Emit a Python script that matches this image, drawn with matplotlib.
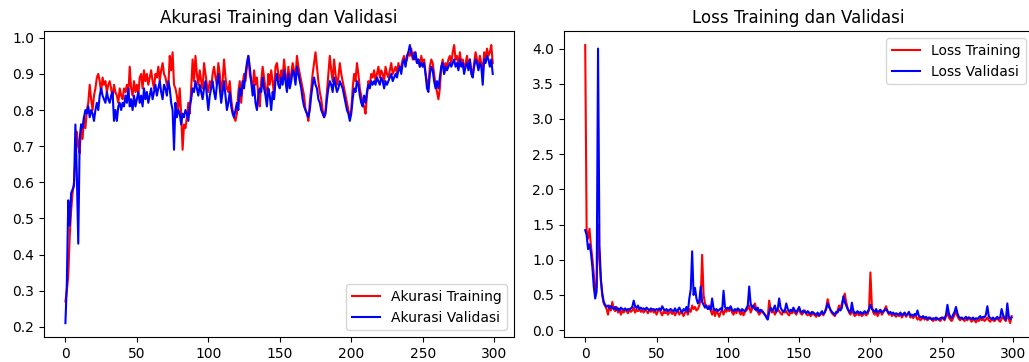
"""
Akurasi dan loss training/validasi per epoch (dua panel).
"""
import numpy as np
import matplotlib
matplotlib.use('Agg')
import matplotlib.pyplot as plt

# akurasi training (merah)
acc_tr = [
    0.27, 0.30, 0.34, 0.45, 0.52, 0.57, 0.60, 0.66, 0.74, 0.70,
    0.68, 0.76, 0.72, 0.78, 0.75, 0.80, 0.82, 0.87, 0.83, 0.80,
    0.84, 0.86, 0.89, 0.90, 0.88, 0.85, 0.89, 0.87, 0.88, 0.85,
    0.87, 0.88, 0.86, 0.83, 0.87, 0.85, 0.84, 0.82, 0.86, 0.84,
    0.83, 0.86, 0.85, 0.87, 0.84, 0.92, 0.86, 0.84, 0.88, 0.85,
    0.87, 0.84, 0.89, 0.90, 0.86, 0.91, 0.88, 0.90, 0.87, 0.89,
    0.91, 0.88, 0.86, 0.90, 0.89, 0.92, 0.88, 0.91, 0.93, 0.90,
    0.89, 0.87, 0.86, 0.95, 0.91, 0.96, 0.87, 0.86, 0.84, 0.80,
    0.86, 0.79, 0.69, 0.76, 0.75, 0.78, 0.82, 0.79, 0.86, 0.94,
    0.88, 0.95, 0.90, 0.87, 0.91, 0.88, 0.86, 0.93, 0.90, 0.87,
    0.85, 0.88, 0.86, 0.90, 0.92, 0.89, 0.87, 0.93, 0.90, 0.85,
    0.88, 0.94, 0.89, 0.86, 0.85, 0.88, 0.83, 0.80, 0.78, 0.77,
    0.79, 0.85, 0.88, 0.82, 0.87, 0.90, 0.88, 0.92, 0.95, 0.90,
    0.88, 0.86, 0.91, 0.87, 0.89, 0.84, 0.81, 0.88, 0.92, 0.89,
    0.86, 0.83, 0.90, 0.87, 0.91, 0.88, 0.84, 0.92, 0.93, 0.90,
    0.88, 0.91, 0.89, 0.94, 0.90, 0.86, 0.92, 0.88, 0.90, 0.93,
    0.91, 0.89, 0.95, 0.92, 0.90, 0.88, 0.86, 0.84, 0.80, 0.79,
    0.77, 0.82, 0.86, 0.90, 0.93, 0.96, 0.92, 0.88, 0.85, 0.83,
    0.80, 0.78, 0.80, 0.85, 0.90, 0.95, 0.91, 0.88, 0.94, 0.90,
    0.87, 0.89, 0.93, 0.90, 0.88, 0.86, 0.84, 0.82, 0.80, 0.78,
    0.80, 0.86, 0.90, 0.88, 0.93, 0.90, 0.86, 0.84, 0.82, 0.81,
    0.79, 0.84, 0.88, 0.87, 0.90, 0.89, 0.91, 0.88, 0.90, 0.92,
    0.89, 0.91, 0.90, 0.88, 0.92, 0.90, 0.89, 0.91, 0.93, 0.90,
    0.91, 0.92, 0.90, 0.93, 0.91, 0.92, 0.94, 0.95, 0.93, 0.94,
    0.96, 0.95, 0.97, 0.94, 0.96, 0.95, 0.93, 0.94, 0.92, 0.95,
    0.93, 0.94, 0.90, 0.88, 0.86, 0.92, 0.94, 0.93, 0.90, 0.87,
    0.85, 0.83, 0.86, 0.92, 0.94, 0.90, 0.93, 0.92, 0.94, 0.95,
    0.93, 0.96, 0.98, 0.94, 0.95, 0.92, 0.96, 0.93, 0.94, 0.91,
    0.93, 0.95, 0.92, 0.94, 0.91, 0.90, 0.93, 0.96, 0.94, 0.92,
    0.95, 0.93, 0.90, 0.96, 0.94, 0.97, 0.95, 0.96, 0.98, 0.93,
]

# akurasi validasi (biru)
acc_val = [
    0.21, 0.32, 0.55, 0.48, 0.57, 0.58, 0.59, 0.76, 0.62, 0.43,
    0.72, 0.76, 0.75, 0.78, 0.80, 0.79, 0.81, 0.78, 0.80, 0.79,
    0.77, 0.80, 0.82, 0.80, 0.84, 0.86, 0.84, 0.83, 0.82, 0.85,
    0.83, 0.82, 0.84, 0.85, 0.77, 0.80, 0.77, 0.81, 0.82, 0.80,
    0.82, 0.81, 0.84, 0.82, 0.86, 0.81, 0.83, 0.80, 0.84, 0.81,
    0.83, 0.85, 0.82, 0.84, 0.81, 0.86, 0.83, 0.85, 0.82, 0.84,
    0.86, 0.83, 0.85, 0.87, 0.84, 0.86, 0.88, 0.85, 0.83, 0.87,
    0.86, 0.84, 0.88, 0.86, 0.82, 0.80, 0.69, 0.82, 0.78, 0.80,
    0.79, 0.76, 0.79, 0.78, 0.80, 0.79, 0.77, 0.81, 0.83, 0.86,
    0.85, 0.88, 0.86, 0.84, 0.87, 0.85, 0.83, 0.86, 0.88, 0.84,
    0.80, 0.84, 0.86, 0.88, 0.85, 0.83, 0.87, 0.90, 0.86, 0.82,
    0.85, 0.88, 0.84, 0.80, 0.82, 0.85, 0.81, 0.79, 0.78, 0.80,
    0.82, 0.80, 0.86, 0.84, 0.88, 0.86, 0.90, 0.93, 0.95, 0.92,
    0.88, 0.84, 0.87, 0.82, 0.80, 0.84, 0.86, 0.85, 0.89, 0.86,
    0.84, 0.81, 0.86, 0.84, 0.80, 0.85, 0.83, 0.88, 0.90, 0.87,
    0.86, 0.89, 0.87, 0.91, 0.88, 0.85, 0.90, 0.86, 0.88, 0.91,
    0.90, 0.87, 0.92, 0.90, 0.88, 0.86, 0.83, 0.81, 0.80, 0.79,
    0.78, 0.80, 0.84, 0.87, 0.89, 0.87, 0.86, 0.83, 0.82, 0.80,
    0.79, 0.78, 0.79, 0.83, 0.86, 0.88, 0.87, 0.85, 0.89, 0.87,
    0.85, 0.86, 0.88, 0.87, 0.86, 0.84, 0.82, 0.80, 0.79, 0.77,
    0.79, 0.83, 0.86, 0.85, 0.88, 0.87, 0.84, 0.82, 0.81, 0.84,
    0.82, 0.85, 0.87, 0.86, 0.88, 0.87, 0.88, 0.87, 0.89, 0.88,
    0.87, 0.89, 0.88, 0.86, 0.88, 0.87, 0.88, 0.89, 0.90, 0.88,
    0.89, 0.90, 0.89, 0.91, 0.92, 0.90, 0.93, 0.94, 0.92, 0.95,
    0.96, 0.98, 0.96, 0.95, 0.94, 0.96, 0.93, 0.94, 0.92, 0.93,
    0.92, 0.93, 0.90, 0.86, 0.85, 0.90, 0.92, 0.91, 0.88, 0.86,
    0.88, 0.86, 0.89, 0.92, 0.93, 0.90, 0.92, 0.91, 0.92, 0.93,
    0.92, 0.93, 0.94, 0.92, 0.93, 0.91, 0.94, 0.92, 0.93, 0.90,
    0.92, 0.93, 0.91, 0.94, 0.90, 0.89, 0.92, 0.94, 0.93, 0.91,
    0.93, 0.92, 0.87, 0.94, 0.93, 0.95, 0.94, 0.92, 0.94, 0.90,
]

# loss training (merah)
loss_tr = [
    4.05, 1.42, 1.30, 1.44, 1.20, 1.02, 0.80, 0.52, 0.62, 1.50,
    1.00, 0.70, 0.48, 0.38, 0.34, 0.30, 0.22, 0.35, 0.28, 0.40,
    0.30, 0.27, 0.33, 0.25, 0.30, 0.22, 0.28, 0.25, 0.30, 0.27,
    0.24, 0.30, 0.26, 0.28, 0.32, 0.25, 0.29, 0.27, 0.30, 0.26,
    0.28, 0.25, 0.30, 0.27, 0.24, 0.29, 0.26, 0.30, 0.25, 0.28,
    0.22, 0.27, 0.30, 0.25, 0.21, 0.27, 0.24, 0.26, 0.22, 0.25,
    0.27, 0.23, 0.26, 0.21, 0.25, 0.28, 0.22, 0.26, 0.24, 0.20,
    0.25, 0.28, 0.22, 0.30, 0.26, 0.35, 0.30, 0.33, 0.28, 0.30,
    0.35, 0.45, 1.07, 0.50, 0.38, 0.33, 0.30, 0.35, 0.28, 0.22,
    0.30, 0.20, 0.27, 0.24, 0.19, 0.26, 0.28, 0.22, 0.29, 0.26,
    0.30, 0.27, 0.33, 0.25, 0.22, 0.28, 0.24, 0.30, 0.26, 0.22,
    0.27, 0.21, 0.26, 0.28, 0.30, 0.35, 0.25, 0.30, 0.33, 0.38,
    0.30, 0.26, 0.22, 0.25, 0.28, 0.24, 0.22, 0.20, 0.18, 0.42,
    0.30, 0.25, 0.28, 0.22, 0.26, 0.30, 0.27, 0.24, 0.22, 0.28,
    0.25, 0.27, 0.23, 0.21, 0.26, 0.24, 0.28, 0.25, 0.22, 0.27,
    0.30, 0.24, 0.22, 0.25, 0.28, 0.23, 0.21, 0.24, 0.20, 0.22,
    0.24, 0.21, 0.19, 0.23, 0.20, 0.22, 0.25, 0.21, 0.26, 0.32,
    0.44, 0.35, 0.28, 0.24, 0.22, 0.20, 0.24, 0.28, 0.35, 0.30,
    0.38, 0.45, 0.52, 0.40, 0.32, 0.25, 0.22, 0.28, 0.24, 0.20,
    0.22, 0.25, 0.21, 0.24, 0.20, 0.22, 0.25, 0.21, 0.23, 0.28,
    0.82, 0.35, 0.25, 0.22, 0.26, 0.20, 0.24, 0.28, 0.22, 0.25,
    0.30, 0.34, 0.26, 0.22, 0.25, 0.20, 0.23, 0.21, 0.19, 0.22,
    0.20, 0.24, 0.18, 0.21, 0.23, 0.19, 0.22, 0.24, 0.18, 0.20,
    0.17, 0.21, 0.19, 0.15, 0.18, 0.14, 0.16, 0.19, 0.15, 0.17,
    0.14, 0.16, 0.18, 0.15, 0.13, 0.16, 0.14, 0.17, 0.15, 0.13,
    0.16, 0.18, 0.14, 0.20, 0.24, 0.18, 0.15, 0.13, 0.17, 0.22,
    0.26, 0.20, 0.16, 0.14, 0.17, 0.15, 0.13, 0.16, 0.14, 0.18,
    0.15, 0.12, 0.16, 0.14, 0.11, 0.15, 0.13, 0.17, 0.14, 0.16,
    0.13, 0.15, 0.18, 0.14, 0.12, 0.16, 0.14, 0.13, 0.15, 0.17,
    0.14, 0.12, 0.16, 0.20, 0.15, 0.13, 0.22, 0.16, 0.10, 0.20,
]

# loss validasi (biru)
loss_val = [
    1.42, 1.35, 1.15, 1.22, 1.10, 0.90, 0.62, 0.45, 0.55, 4.00,
    1.20, 0.72, 0.52, 0.40, 0.36, 0.33, 0.35, 0.31, 0.34, 0.32,
    0.30, 0.33, 0.29, 0.31, 0.28, 0.32, 0.30, 0.29, 0.31, 0.28,
    0.30, 0.29, 0.31, 0.33, 0.42, 0.34, 0.31, 0.35, 0.30, 0.32,
    0.30, 0.31, 0.29, 0.32, 0.30, 0.28, 0.31, 0.29, 0.30, 0.28,
    0.30, 0.29, 0.31, 0.28, 0.34, 0.30, 0.28, 0.30, 0.27, 0.29,
    0.30, 0.28, 0.27, 0.31, 0.26, 0.29, 0.32, 0.28, 0.25, 0.30,
    0.28, 0.33, 0.26, 0.45, 0.58, 1.12, 0.50, 0.60, 0.45, 0.38,
    0.42, 0.62, 0.40, 0.36, 0.32, 0.35, 0.30, 0.33, 0.29, 0.45,
    0.31, 0.28, 0.30, 0.27, 0.29, 0.31, 0.28, 0.56, 0.33, 0.30,
    0.32, 0.30, 0.34, 0.29, 0.27, 0.30, 0.28, 0.31, 0.29, 0.27,
    0.30, 0.28, 0.27, 0.31, 0.35, 0.62, 0.38, 0.32, 0.35, 0.30,
    0.28, 0.32, 0.26, 0.29, 0.27, 0.25, 0.22, 0.18, 0.15, 0.25,
    0.32, 0.28, 0.30, 0.35, 0.26, 0.30, 0.45, 0.32, 0.28, 0.26,
    0.28, 0.38, 0.30, 0.26, 0.29, 0.27, 0.32, 0.28, 0.25, 0.29,
    0.33, 0.27, 0.25, 0.28, 0.26, 0.24, 0.27, 0.25, 0.23, 0.26,
    0.25, 0.23, 0.22, 0.25, 0.21, 0.24, 0.27, 0.23, 0.25, 0.30,
    0.38, 0.33, 0.29, 0.26, 0.24, 0.22, 0.26, 0.25, 0.30, 0.28,
    0.32, 0.48, 0.40, 0.35, 0.30, 0.27, 0.25, 0.39, 0.28, 0.24,
    0.25, 0.27, 0.24, 0.26, 0.23, 0.25, 0.27, 0.24, 0.26, 0.30,
    0.36, 0.30, 0.28, 0.26, 0.30, 0.25, 0.27, 0.29, 0.25, 0.27,
    0.28, 0.30, 0.27, 0.24, 0.26, 0.23, 0.25, 0.22, 0.24, 0.23,
    0.22, 0.25, 0.21, 0.23, 0.25, 0.21, 0.23, 0.26, 0.21, 0.22,
    0.20, 0.23, 0.21, 0.28, 0.20, 0.19, 0.18, 0.20, 0.17, 0.19,
    0.16, 0.18, 0.17, 0.15, 0.17, 0.16, 0.18, 0.16, 0.15, 0.17,
    0.18, 0.17, 0.16, 0.22, 0.36, 0.24, 0.19, 0.17, 0.22, 0.26,
    0.33, 0.24, 0.19, 0.17, 0.18, 0.16, 0.17, 0.19, 0.16, 0.18,
    0.17, 0.16, 0.18, 0.15, 0.17, 0.16, 0.18, 0.20, 0.17, 0.19,
    0.18, 0.22, 0.34, 0.20, 0.17, 0.16, 0.18, 0.15, 0.17, 0.19,
    0.16, 0.18, 0.30, 0.22, 0.17, 0.15, 0.38, 0.20, 0.16, 0.18,
]

fig = plt.figure(figsize=(10.29, 3.62), dpi=100)
# panel kanan sengaja sedikit keluar dari kanvas seperti gambar aslinya
ax1 = fig.add_axes([0.0428, 0.069, 0.4568, 0.845])
ax2 = fig.add_axes([0.548, 0.069, 0.4558, 0.845])

ax1.plot(np.arange(len(acc_tr)), acc_tr, 'r', label='Akurasi Training')
ax1.plot(np.arange(len(acc_val)), acc_val, 'b', label='Akurasi Validasi')
ax1.set_title('Akurasi Training dan Validasi')
ax1.legend(loc='lower right')

ax2.plot(np.arange(len(loss_tr)), loss_tr, 'r', label='Loss Training')
ax2.plot(np.arange(len(loss_val)), loss_val, 'b', label='Loss Validasi')
ax2.set_title('Loss Training dan Validasi')
ax2.legend(loc='upper right')

plt.savefig('out.png', dpi=100)
